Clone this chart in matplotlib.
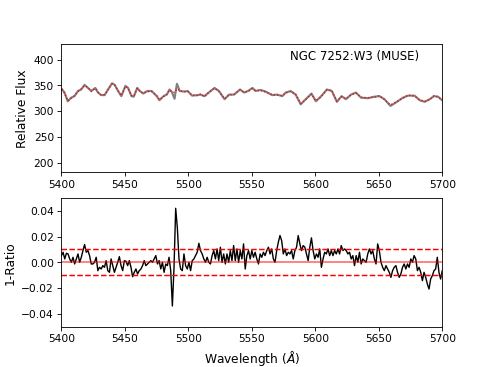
import matplotlib
matplotlib.use('Agg')
import matplotlib.pyplot as plt
import numpy as np

# spectrum (top panel): wavelength, observed flux, model flux
spec_wave = [5400.5, 5402.4, 5405.0, 5407.7, 5410.3, 5413.0, 5415.6, 5418.2, 5420.9, 5423.5,
             5426.7, 5428.8, 5431.4, 5434.0, 5436.7, 5439.9, 5442.0, 5444.6, 5447.2, 5450.4,
             5452.5, 5455.2, 5457.0, 5459.7, 5461.8, 5464.5, 5467.6, 5471.1, 5475.1, 5477.2,
             5480.4, 5483.0, 5485.2, 5487.0, 5489.1, 5491.0, 5493.2, 5496.3, 5499.5, 5502.9,
             5506.9, 5509.5, 5512.7, 5516.1, 5520.6, 5524.1, 5528.5, 5532.0, 5536.0, 5540.7,
             5543.9, 5547.0, 5550.5, 5552.9, 5556.8, 5560.8, 5566.0, 5570.0, 5574.0, 5576.6,
             5580.6, 5584.5, 5588.5, 5592.4, 5597.0, 5600.4, 5604.3, 5609.1, 5613.0, 5617.0,
             5620.7, 5624.1, 5628.1, 5632.0, 5636.0, 5641.3, 5646.6, 5650.5, 5654.5, 5659.2,
             5663.7, 5669.0, 5673.0, 5678.2, 5682.2, 5686.1, 5690.1, 5693.5, 5696.7, 5699.9]
obs_flux = [342, 336, 319, 326, 329, 339, 342, 351, 345, 339,
            345, 336, 331, 331, 342, 354, 351, 339, 329, 349,
            345, 329, 328, 345, 339, 334, 339, 339, 329, 321,
            329, 332, 342, 337, 324, 353, 339, 338, 339, 330,
            331, 332, 329, 336, 345, 339, 323, 332, 332, 342,
            336, 339, 345, 339, 341, 338, 331, 332, 329, 336,
            339, 332, 313, 323, 334, 319, 328, 342, 339, 318,
            329, 323, 332, 336, 326, 325, 328, 329, 323, 310,
            317, 326, 330, 330, 321, 318, 323, 329, 328, 321]
model_flux = [343, 335, 320, 325, 330, 338, 343, 349, 346, 338,
              344, 337, 331, 332, 341, 353, 350, 340, 330, 348,
              344, 330, 329, 344, 338, 335, 338, 338, 330, 322,
              328, 333, 341, 338, 336, 343, 340, 337, 338, 331,
              330, 333, 328, 337, 344, 338, 324, 331, 333, 341,
              337, 338, 344, 340, 340, 337, 332, 331, 330, 335,
              338, 333, 315, 322, 333, 320, 327, 341, 340, 319,
              328, 324, 331, 335, 327, 326, 327, 330, 322, 312,
              318, 325, 331, 329, 322, 319, 322, 330, 327, 322]

# 1 - ratio (bottom panel), units of 1e-3, evenly sampled 5400-5700
ratio = [5.2, 7.8, 2.6, 7.0, 6.5, 2.6, 0, 3.9, -1.3, 2.6,
         6.5, 0, 3.9, 9.1, 13.8, 7.8, 9.1, 5.2, -1.3, -1.3,
         0, 3.9, -6.5, -3.9, -5.2, -2.6, -3.9, 1.3, -6.5, -7.8,
         2.6, -2.6, -7.8, -3.9, 0, 4.4, -2.6, -6.5, 1.3, 0.8,
         -2.6, 1.3, -3.9, -11.2, -7.8, -5.2, -9.1, -6.5, -5.2, -2.6,
         1.3, -2.6, -1.3, 0, 1.3, 0, 2.6, 5.2, -1.3, 1.3,
         -5.2, 0, -7.8, -1.3, -2.6, 3.9, -6.5, -34, -3.9, 42,
         27, 2.6, -5.2, -6.5, 6.5, -2.6, -5.2, 0, -6.5, 1.3,
         2.6, 5.2, 7.8, 14.8, 9.1, 6.5, 2.6, 0, 3.9, 0,
         -1.3, 5.2, 9.1, 2.6, 10.4, 1.3, 11.7, 0, 6.5, -1.3,
         6.5, 0, 9.1, 1.3, 13, 1.3, 10.4, 0, 9.1, 2.6,
         14.3, -5.2, 5.2, 9.1, 2.6,
         9.1, 3.9, 7.8, 2.6, -1.3, 6.5, 3.9, 7.8, 5.2, 9.1,
         11.7, 6.5, 10.4, 2.6, 0, 9.1, 15.6, 20.8, 16.9, 6.5,
         10.4, 5.2, 7.8, 6.5, 9.1, 2.6, 9.1, 11.7, 20.8, 14.3,
         9.1, 13, 11.7, 6.5, 1.3, 11.7, 19, 9.1, 2.6, 6.5,
         3.9, 10.4, -3.9, 2.6, 7.8, 6.5, 10.4, 5.2, 9.1, 5.2,
         9.1, 6.5, 10.4, 6.5, 13, 9.1, 10.4, 9.1, 6.5, 7.8,
         2.6, 5.2, -2.6, 5.2, 0, 7.8, -1.3, 2.6, 1.3, 0,
         6.5, 10.4, 6.5, 9.1, 2.6, -1.3, 14.3, 9.1, 0, -3.9,
         -6.5, -2.6, -5.2, -7.8, -11.7, -6.5, -3.9, -2.6, -7.8, -11.7,
         -9.1, -3.9, -1.3, -5.2, -1.3, -3.9, 2.6, 0, 5.2, 2.6,
         -6.5, -3.9, -7.8, -14.3, -7.8, -11.7, -16.9, -20.8, -13, -10.4,
         -6.5, -5.2, 3.9, -7.8, -13, -6.5]
ratio = np.array(ratio) / 1000.
ratio_wave = np.linspace(5400, 5700, len(ratio))

dpi = 76.7
fig, axarr = plt.subplots(2, 1, figsize=(491.4/dpi, 367.4/dpi), dpi=dpi)

axarr[0].plot(spec_wave, obs_flux, color='grey', lw=2)
axarr[0].plot(spec_wave, model_flux, color='#ff0000', ls=':', lw=1.2)
axarr[0].set_xlim(5400, 5700)
axarr[0].set_ylim(181, 431)
axarr[0].set_ylabel('Relative Flux', fontsize=11.5)
axarr[0].text(5580, 400, 'NGC 7252:W3 (MUSE)', fontsize=11)

axarr[1].plot(ratio_wave, ratio, 'k-', lw=1.3)
axarr[1].axhline(0, color='#ff0000', lw=1.5, alpha=0.6)
axarr[1].axhline(0.01, color='#ff0000', ls='--', lw=1.4)
axarr[1].axhline(-0.01, color='#ff0000', ls='--', lw=1.4)
axarr[1].set_xlim(5400, 5700)
axarr[1].set_ylim(-0.05, 0.05)
axarr[1].set_ylabel('1-Ratio', fontsize=11.5)
axarr[1].set_xlabel(r'Wavelength ($\AA$)', fontsize=11.5)

plt.savefig('out.png', dpi=dpi)
